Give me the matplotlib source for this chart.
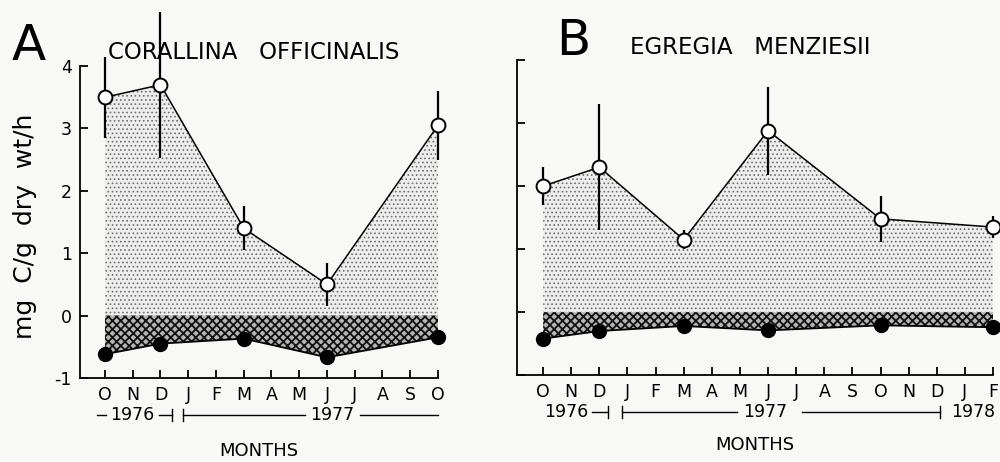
import numpy as np
import matplotlib
matplotlib.use("Agg")
import matplotlib.pyplot as plt
from matplotlib.transforms import blended_transform_factory

# ---- data ----
months_a = ["O", "N", "D", "J", "F", "M", "A", "M", "J", "J", "A", "S", "O"]
a_idx = [0, 2, 5, 8, 12]
a_gross = [3.5, 3.7, 1.4, 0.5, 3.05]
a_gross_err = [0.65, 1.17, 0.35, 0.35, 0.55]
a_resp = [-0.62, -0.45, -0.37, -0.67, -0.35]

months_b = ["O", "N", "D", "J", "F", "M", "A", "M", "J", "J", "A", "S", "O",
            "N", "D", "J", "F"]
b_idx = [0, 2, 5, 8, 12, 16]
b_gross = [2.0, 2.3, 1.15, 2.88, 1.48, 1.35]
b_gross_err = [0.3, 1.0, 0.15, 0.7, 0.36, 0.17]
b_resp = [-0.42, -0.3, -0.22, -0.29, -0.21, -0.24]

y_ticks = [-1, 0, 1, 2, 3, 4]

bg = "#f8f8f6"
plt.rcParams["font.family"] = ["DejaVu Sans"]

fig = plt.figure(figsize=(10, 4.62), dpi=100, facecolor=bg)
ax_a = fig.add_axes([0.08, 0.182, 0.358, 0.675], facecolor=bg)
ax_b = fig.add_axes([0.517, 0.188, 0.476, 0.682], facecolor=bg)


def draw_panel(ax, months, idx, gross, err, resp, xlim):
    x = np.array(idx)
    with plt.rc_context({"hatch.linewidth": 0.7}):
        ax.fill_between(x, gross, 0, facecolor="#ededed", edgecolor="#6e6e6e",
                        hatch="....", linewidth=0, zorder=1)
    with plt.rc_context({"hatch.linewidth": 1.3}):
        ax.fill_between(x, resp, 0, facecolor="#b5b5b5", edgecolor="#111111",
                        hatch="xxxx", linewidth=0, zorder=2)
    ax.vlines(x, np.array(gross) - np.array(err), np.array(gross) + np.array(err),
              color="black", lw=1.6, zorder=3, clip_on=False)
    ax.plot(x, gross, "-o", color="black", lw=1.1, ms=10, mfc="white",
            mec="black", mew=1.4, zorder=4, clip_on=False)
    ax.plot(x, resp, "-o", color="black", lw=1.3, ms=10, mfc="black",
            mec="black", zorder=4, clip_on=False)

    ax.set_xlim(*xlim)
    ax.set_ylim(-1, 4)
    ax.set_xticks(range(len(months)))
    ax.set_xticklabels(months, fontsize=12.5)
    ax.set_yticks(y_ticks)
    for s in ["top", "right"]:
        ax.spines[s].set_visible(False)
    ax.spines["bottom"].set_bounds(xlim[0], len(months) - 1)
    for s in ["left", "bottom"]:
        ax.spines[s].set_linewidth(1.3)
    ax.tick_params(direction="in", length=6, width=1.3, pad=6)


draw_panel(ax_a, months_a, a_idx, a_gross, a_gross_err, a_resp, (-0.9, 12))
draw_panel(ax_b, months_b, b_idx, b_gross, b_gross_err, b_resp, (-0.93, 16))

ax_a.set_yticklabels([str(v) for v in y_ticks], fontsize=12.5)
ax_b.set_yticklabels([])
ax_a.set_ylabel("mg  C/g  dry  wt/h", fontsize=18)
ax_a.yaxis.set_label_coords(-0.12, 0.487)


def year_line(ax, x0, x1, y, tick_left=False, tick_right=False):
    tr = blended_transform_factory(ax.transData, ax.transAxes)
    ax.plot([x0, x1], [y, y], color="black", lw=1.0, transform=tr, clip_on=False)
    if tick_left:
        ax.plot([x0, x0], [y - 0.018, y + 0.018], color="black", lw=1.0,
                transform=tr, clip_on=False)
    if tick_right:
        ax.plot([x1, x1], [y - 0.018, y + 0.018], color="black", lw=1.0,
                transform=tr, clip_on=False)


def year_text(ax, x, y, s):
    tr = blended_transform_factory(ax.transData, ax.transAxes)
    ax.text(x, y, s, transform=tr, ha="center", va="center", fontsize=12.5)


# panel A year bar
ya = -0.119
year_text(ax_a, 1.0, ya, "1976")
year_line(ax_a, -0.3, 0.05, ya)
year_line(ax_a, 1.95, 2.4, ya, tick_right=True)
year_line(ax_a, 2.8, 7.2, ya, tick_left=True)
year_text(ax_a, 8.2, ya, "1977")
year_line(ax_a, 9.2, 12, ya)

# panel B year bar
yb = -0.117
year_text(ax_b, 0.82, yb, "1976")
year_line(ax_b, 1.75, 2.3, yb, tick_right=True)
year_line(ax_b, 2.8, 6.9, yb, tick_left=True)
year_text(ax_b, 7.9, yb, "1977")
year_line(ax_b, 9.2, 14.1, yb, tick_right=True)
year_text(ax_b, 15.3, yb, "1978")

ax_a.text(0.5, -0.235, "MONTHS", transform=ax_a.transAxes, ha="center",
          va="center", fontsize=13)
ax_b.text(0.5, -0.222, "MONTHS", transform=ax_b.transAxes, ha="center",
          va="center", fontsize=13)

# panel letters and titles
fig.text(0.012, 0.870, "A", fontsize=36, ha="left", va="baseline")
fig.text(0.108, 0.872, "CORALLINA   OFFICINALIS", fontsize=16.5, ha="left",
         va="baseline")
fig.text(0.556, 0.881, "B", fontsize=36, ha="left", va="baseline")
fig.text(0.63, 0.883, "EGREGIA   MENZIESII", fontsize=16.5, ha="left",
         va="baseline")

fig.savefig("out.png", dpi=100, facecolor=bg)
